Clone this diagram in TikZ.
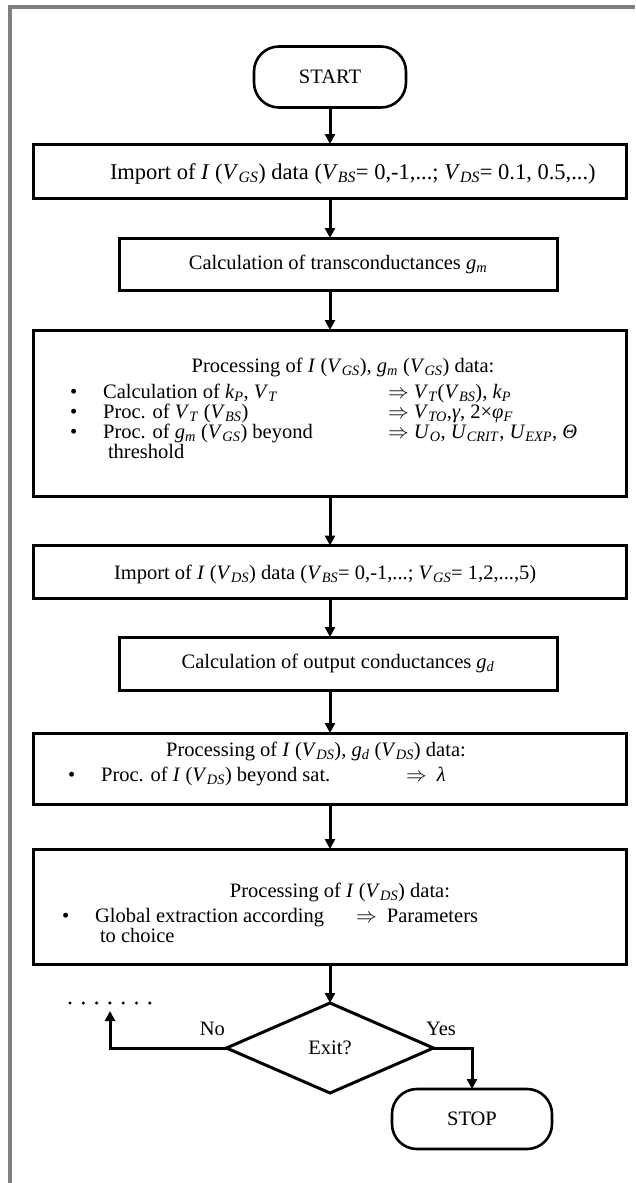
\documentclass[tikz,border=0pt]{standalone}
\usepackage{fontspec}
\setmainfont{Liberation Serif}
\usetikzlibrary{shapes.geometric,arrows.meta,positioning}
\newcommand{\vr}[2]{\textit{#1}\textsubscript{\textit{#2}}}
\begin{document}
\begin{tikzpicture}[x=1pt,y=-1pt,inner sep=0pt,outer sep=0pt,line width=3pt,
>={Triangle[length=10pt,width=10pt]},
font=\fontsize{20.5}{21}\selectfont,
procbox/.style={draw,rectangle,line width=3pt},
termbox/.style={draw,rectangle,rounded corners=25pt,line width=2.6pt,minimum width=152pt,minimum height=61pt},
decbox/.style={draw,diamond,aspect=2.28,line width=3pt,minimum width=207pt,minimum height=90pt},
rowtext/.style={anchor=base west,text height=14pt,text depth=4pt},
headtext/.style={anchor=base,text height=14pt,text depth=4pt}]

\useasboundingbox (0,0) rectangle (635,1183);
% frame
\fill[gray] (8,5) rectangle (635,9);
\fill[gray] (8,5) rectangle (12,1183);

\draw (330,77) node[termbox] (start) {START};
\draw (329.5,171) node[procbox,minimum width=593pt,minimum height=54pt] (imp1) {};
\node[anchor=base west,font=\fontsize{22.5}{23}\selectfont] (imp1txt) at (110,179)
  {Import of \textit{I} (\vr{V}{GS}) data (\vr{V}{BS}= 0,-1,...; \vr{V}{DS}= 0.1, 0.5,...)};
\draw (338,264) node[procbox,minimum width=438pt,minimum height=52pt] (gm)
  {Calculation of transconductances \vr{g}{m}};
\draw (329.5,413) node[procbox,minimum width=593pt,minimum height=166pt] (proc1) {};
\draw (329.5,572) node[procbox,minimum width=593pt,minimum height=53pt] (imp2) {};
\node[anchor=base west] (imp2txt) at (114,579)
  {Import of \textit{I} (\vr{V}{DS}) data (\vr{V}{BS}= 0,-1,...; \vr{V}{GS}= 1,2,...,5)};
\draw (338,663.5) node[procbox,minimum width=438pt,minimum height=53pt] (gd)
  {Calculation of output conductances \vr{g}{d}};
\draw (329.5,768.5) node[procbox,minimum width=593pt,minimum height=71pt] (proc2) {};
\draw (329.5,906.5) node[procbox,minimum width=593pt,minimum height=115pt] (proc3) {};
\draw (330,1048) node[decbox] (exit) {Exit?};
\draw (472,1119) node[termbox,minimum width=160pt,minimum height=60pt] (stop) {STOP};

% box texts
\node[headtext] (t1) at (343,372) {Processing of \textit{I} (\vr{V}{GS}), \vr{g}{m} (\vr{V}{GS}) data:};
\node[rowtext] (b1) at (70,398) {\textbullet\hspace{26pt}Calculation of \vr{k}{P}, \vr{V}{T}};
\node[rowtext] (b2) at (70,418) {\textbullet\hspace{26pt}Proc. of \vr{V}{T} (\vr{V}{BS})};
\node[rowtext] (b3) at (70,438) {\textbullet\hspace{26pt}Proc. of \vr{g}{m} (\vr{V}{GS}) beyond};
\node[rowtext] (b3b) at (108,458) {threshold};
\node[rowtext] (r1) at (388,398) {$\Rightarrow$ \vr{V}{T}(\vr{V}{BS}), \vr{k}{P}};
\node[rowtext] (r2) at (388,418) {$\Rightarrow$ \vr{V}{TO},\textit{γ}, 2×\vr{φ}{F}};
\node[rowtext] (r3) at (388,438) {$\Rightarrow$ \vr{U}{O}, \vr{U}{CRIT}, \vr{U}{EXP}, \textit{Θ}};

\node[headtext] (t2) at (316,756) {Processing of \textit{I} (\vr{V}{DS}), \vr{g}{d} (\vr{V}{DS}) data:};
\node[rowtext] (c1) at (68,781) {\textbullet\hspace{26pt}Proc. of \textit{I} (\vr{V}{DS}) beyond sat.};
\node[rowtext] (c1r) at (406,781) {$\Rightarrow$\ \ \textit{λ}};

\node[headtext] (t3) at (340,897) {Processing of \textit{I} (\vr{V}{DS}) data:};
\node[rowtext] (d1) at (62,922) {\textbullet\hspace{26pt}Global extraction according};
\node[rowtext] (d1b) at (100,942) {to choice};
\node[rowtext] (d1r) at (356,922) {$\Rightarrow$\ \ Parameters};

% arrows
\draw[->] (start.south) -- (imp1.north -| start.south);
\draw[->] (imp1.south -| start.south) -- (gm.north -| start.south);
\draw[->] (gm.south -| start.south) -- (proc1.north -| start.south);
\draw[->] (proc1.south -| start.south) -- (imp2.north -| start.south);
\draw[->] (imp2.south -| start.south) -- (gd.north -| start.south);
\draw[->] (gd.south -| start.south) -- (proc2.north -| start.south);
\draw[->] (proc2.south -| start.south) -- (proc3.north -| start.south);
\draw[->] (proc3.south -| start.south) -- (exit.north);
\coordinate (dots) at (110,1011);
\draw[->] (exit.west) -| (dots);
\draw[->] (exit.east) -| (stop.north);
\foreach \i in {0,...,6}
  \fill (70+13.3*\i,1003) circle (1.7pt);
\node[anchor=south east] (no) at (225,1036) {No};
\node[anchor=south west] (yes) at (426,1036) {Yes};
\end{tikzpicture}
\end{document}
